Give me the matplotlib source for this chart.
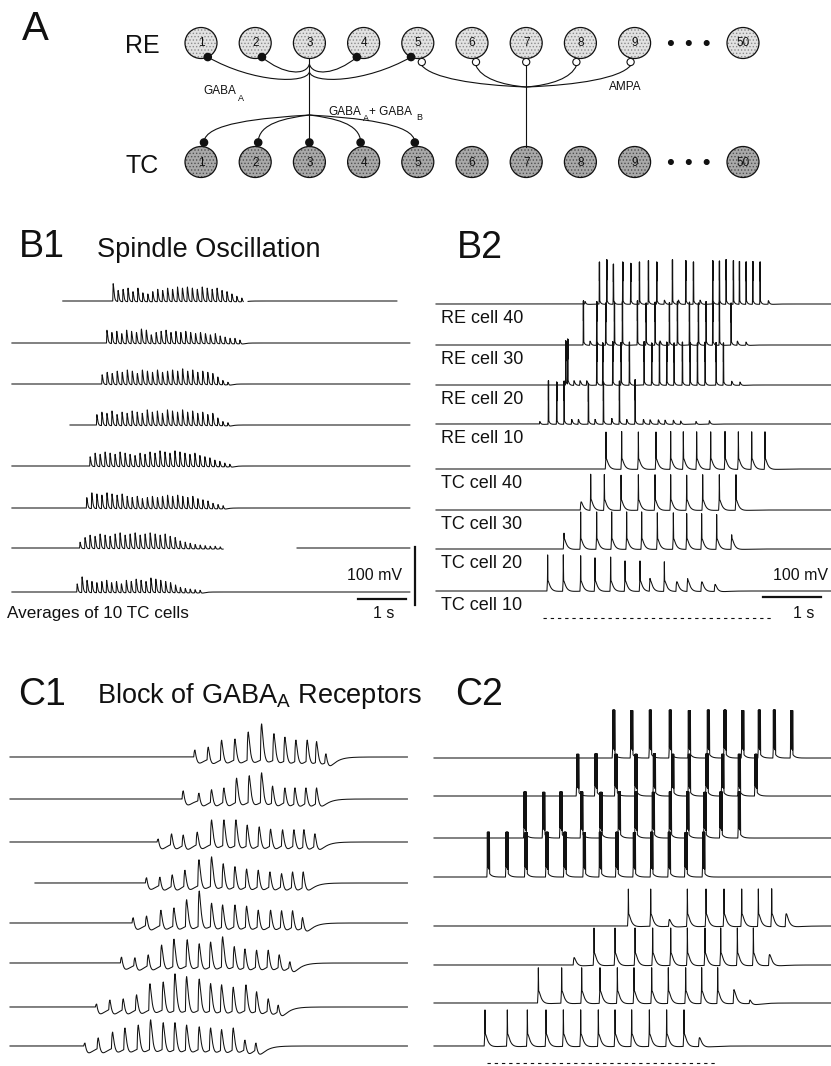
import numpy as np
import matplotlib
matplotlib.use("Agg")
import matplotlib.pyplot as plt
from matplotlib.patches import Ellipse, Circle, PathPatch
from matplotlib.path import Path

plt.rcParams['font.family'] = ['Liberation Sans', 'DejaVu Sans']
plt.rcParams['hatch.linewidth'] = 0.6

# ---------------------------------------------------------------- data
CELL_LABELS = ['1', '2', '3', '4', '5', '6', '7', '8', '9', '50']
GABAA_RE_TARGETS = [1, 2, 4, 5]          # RE3 -> RE cells
GABA_TC_TARGETS = [1, 2, 3, 4, 5]        # RE3 -> TC cells
AMPA_RE_TARGETS = [5, 6, 7, 8, 9]        # TC7 -> RE cells

# B1: averaged spindle traces (onset/offset in s, peak amplitudes in mV)
B1_ONSET = [2.15, 2.02, 1.92, 1.81, 1.67, 1.60, 1.46, 1.40]
B1_OFFSET = [4.83, 4.79, 4.54, 4.54, 4.58, 4.44, 4.38, 3.96]
B1_AMPS = [
    [30, 18, 20, 22, 16, 22, 14, 12, 16, 20, 18, 22, 20, 24, 22, 24, 22, 20, 24, 22, 20, 22, 18, 16, 12, 8, 5],
    [22, 18, 20, 16, 22, 20, 18, 24, 22, 14, 18, 20, 22, 18, 20, 18, 20, 18, 16, 18, 16, 14, 16, 12, 10, 8, 8, 5],
    [16, 20, 18, 22, 20, 24, 22, 18, 24, 22, 20, 24, 20, 22, 24, 22, 26, 22, 24, 20, 22, 20, 18, 12, 6, 3],
    [18, 22, 20, 24, 18, 22, 20, 24, 22, 20, 26, 22, 24, 20, 26, 24, 22, 26, 22, 24, 20, 22, 18, 20, 12, 6, 4],
    [16, 22, 20, 24, 22, 20, 24, 22, 20, 18, 22, 20, 24, 22, 26, 24, 22, 26, 24, 22, 20, 22, 18, 16, 14, 10, 8, 5, 3],
    [18, 26, 24, 22, 26, 24, 22, 24, 20, 18, 20, 16, 18, 20, 18, 20, 22, 20, 22, 20, 18, 20, 16, 14, 12, 8, 6, 4],
    [10, 18, 22, 20, 24, 22, 20, 24, 26, 22, 24, 26, 22, 24, 26, 24, 22, 24, 20, 18, 12, 10, 8, 6, 5, 4, 3, 3, 2],
    [14, 26, 20, 18, 16, 18, 20, 16, 18, 14, 20, 18, 22, 20, 18, 24, 22, 20, 18, 16, 12, 8, 6, 5, 4, 3],
]
B1_START = [1.10, 0.04, 0.04, 1.25, 0.04, 0.04, 0.04, 0.04]
B1_END = [8.06, 8.33, 8.33, 8.33, 8.33, 8.33, 8.33, 8.33]
B1_GAPS = [(4.86, 4.96), None, None, None, None, None, (4.44, 5.98), None]

# B2: single cells (event times in s, peak heights in mV)
B2_LABELS = ['RE cell 40', 'RE cell 30', 'RE cell 20', 'RE cell 10',
             'TC cell 40', 'TC cell 30', 'TC cell 20', 'TC cell 10']
B2_KIND = ['re', 're', 're', 're', 'tc', 'tc', 'tc', 'tc']
B2_T = [
    [2.569, 2.816, 2.943, 3.057, 3.218, 3.356, 3.506, 3.661, 3.805, 3.937, 4.075, 4.178,
     4.305, 4.437, 4.552, 4.770, 4.885, 5.000, 5.126, 5.230, 5.345, 5.460, 5.586, 5.730],
    [2.540, 2.655, 2.770, 2.925, 3.075, 3.213, 3.471, 3.621, 3.776, 3.862, 4.023, 4.161,
     4.368, 4.523, 4.655, 4.770, 4.885, 5.086, 5.195, 5.345],
    [2.236, 2.270, 2.379, 2.483, 2.598, 2.770, 2.874, 3.046, 3.190, 3.333, 3.586, 3.718,
     3.851, 3.977, 4.103, 4.247, 4.379, 4.506, 4.638, 4.828, 4.954, 5.098, 5.241],
    [1.790, 1.937, 2.080, 2.207, 2.339, 2.454, 2.626, 2.741, 2.885, 3.029, 3.161, 3.287,
     3.431, 3.575, 3.690, 3.833, 3.948, 4.092, 4.218, 4.483, 4.713],
    [2.931, 3.201, 3.489, 3.793, 4.046, 4.264, 4.494, 4.736, 4.983, 5.213, 5.443, 5.672],
    [2.500, 2.667, 2.902, 3.190, 3.489, 3.776, 4.046, 4.322, 4.598, 4.885, 5.172],
    [2.207, 2.494, 2.770, 3.029, 3.287, 3.546, 3.816, 4.092, 4.322, 4.580, 4.839, 5.098],
    [1.925, 2.195, 2.494, 2.741, 3.011, 3.259, 3.517, 3.690, 3.937, 4.149, 4.339, 4.580, 4.810],
]
B2_A = [
    [5, 95, 100, 90, 95, 92, 95, 98, 95, 8, 100, 8, 98, 95, 8, 98, 97, 100, 98, 96, 95, 96, 95, 7],
    [100, 8, 98, 95, 97, 98, 100, 95, 97, 8, 96, 98, 97, 95, 98, 96, 97, 95, 8, 6],
    [100, 100, 9, 9, 9, 97, 95, 98, 96, 97, 98, 95, 96, 97, 95, 97, 96, 95, 97, 96, 95, 8, 6],
    [5, 98, 95, 97, 10, 10, 92, 10, 95, 12, 97, 10, 100, 10, 9, 9, 8, 8, 6, 5, 7],
    [84, 85, 84, 84, 85, 84, 84, 84, 85, 84, 84, 84],
    [18, 80, 80, 79, 80, 80, 80, 79, 80, 80, 80],
    [36, 84, 84, 84, 84, 84, 82, 82, 80, 80, 78, 32],
    [82, 82, 80, 75, 77, 68, 68, 27, 66, 20, 27, 20, 14],
]

# C1: averaged traces with GABA_A blocked
C1_T = [
    [3.854, 4.132, 4.410, 4.688, 4.965, 5.243, 5.500, 5.729, 5.958, 6.194, 6.389, 6.583],
    [3.611, 3.938, 4.201, 4.458, 4.722, 4.986, 5.243, 5.472, 5.729, 5.938, 6.167, 6.389],
    [3.090, 3.368, 3.611, 3.903, 4.201, 4.458, 4.708, 4.944, 5.194, 5.431, 5.681, 5.917, 6.125, 6.354],
    [2.847, 3.125, 3.382, 3.646, 3.938, 4.201, 4.444, 4.688, 4.931, 5.174, 5.417, 5.660, 5.889, 6.111],
    [2.569, 2.847, 3.146, 3.417, 3.681, 3.944, 4.201, 4.431, 4.688, 4.931, 5.174, 5.431, 5.660, 5.889, 6.097],
    [2.326, 2.604, 2.882, 3.160, 3.417, 3.694, 3.944, 4.181, 4.431, 4.674, 4.896, 5.139, 5.382, 5.611, 5.833],
    [1.806, 2.083, 2.361, 2.639, 2.917, 3.194, 3.438, 3.681, 3.944, 4.181, 4.410, 4.653, 4.917, 5.139, 5.382, 5.590],
    [1.563, 1.840, 2.139, 2.396, 2.674, 2.931, 3.194, 3.438, 3.681, 3.944, 4.181, 4.410, 4.653, 4.896, 5.125],
]
C1_A = [
    [12, 17, 29, 31, 43, 57, 40, 34, 29, 29, 26, 5],
    [14, 10, 16, 19, 36, 40, 45, 22, 19, 19, 19, 19],
    [5, 14, 12, 17, 38, 38, 38, 29, 26, 22, 21, 21, 21, 14],
    [9, 10, 14, 22, 40, 45, 33, 28, 24, 22, 19, 16, 19, 19],
    [9, 12, 22, 26, 40, 55, 34, 31, 31, 29, 22, 22, 21, 21, 9],
    [10, 9, 14, 31, 41, 40, 33, 36, 45, 28, 24, 22, 22, 14, 2],
    [5, 12, 14, 21, 40, 43, 57, 52, 48, 40, 38, 34, 38, 26, 14, 3],
    [5, 14, 24, 31, 36, 45, 40, 40, 36, 33, 31, 28, 31, 10, 5],
]
C1_START = [0.0, 0.0, 0.0, 0.52, 0.0, 0.0, 0.0, 0.0]

# C2: single cells with GABA_A blocked
C2_KIND = ['rec', 'rec', 'rec', 'rec', 'tcc', 'tcc', 'tcc', 'tcc']
C2_T = [
    [3.081, 3.391, 3.713, 4.057, 4.385, 4.713, 5.000, 5.305, 5.592, 5.851, 6.149],
    [2.460, 2.776, 3.121, 3.466, 3.782, 4.098, 4.385, 4.690, 4.960, 5.247, 5.534],
    [1.552, 1.874, 2.172, 2.529, 2.862, 3.178, 3.466, 3.764, 4.057, 4.357, 4.655, 4.931, 5.247],
    [0.920, 1.241, 1.569, 1.931, 2.241, 2.575, 2.851, 3.138, 3.437, 3.736, 4.040, 4.328, 4.632],
    [3.351, 3.736, 4.057, 4.368, 4.690, 5.000, 5.305, 5.592, 5.822, 6.069],
    [2.414, 2.759, 3.121, 3.466, 3.770, 4.081, 4.368, 4.672, 4.943, 5.230, 5.506, 5.782],
    [1.799, 2.201, 2.546, 2.862, 3.161, 3.448, 3.753, 4.040, 4.339, 4.615, 4.891, 5.172, 5.448],
    [0.879, 1.264, 1.609, 1.931, 2.230, 2.529, 2.833, 3.121, 3.408, 3.713, 4.011, 4.310, 4.575],
]
C2_A = [
    [109, 108, 109, 109, 108, 109, 109, 108, 109, 109, 108],
    [95, 96, 95, 95, 96, 95, 95, 96, 95, 95, 95],
    [105, 104, 105, 105, 104, 105, 105, 104, 105, 105, 104, 105, 105],
    [102, 102, 101, 102, 102, 101, 102, 102, 101, 102, 102, 101, 102],
    [84, 84, 14, 84, 84, 84, 84, 84, 84, 27],
    [16, 84, 84, 84, 84, 84, 84, 84, 84, 84, 84, 23],
    [80, 80, 80, 80, 80, 80, 80, 80, 80, 80, 80, 30, 5],
    [82, 82, 82, 82, 82, 82, 82, 82, 82, 82, 82, 82, 18],
]

SCALE_MV = 100     # mV scale bar
SCALE_S = 1.0      # s scale bar
B2_MARK = (1.85, 5.81)   # dashed marker under B2 (s)
C2_MARK = (0.914, 4.897)  # dashed marker under C2 (s)

# ---------------------------------------------------------------- style / layout
W, H = 831, 1066
INK = '#111111'
DT = 0.0005

STYLES = {
    'avg': dict(tr=0.005, td=0.020, H=None, nspk=0, inh=2.0, itr=0.02, itd=0.06),
    'c1':  dict(tr=0.018, td=0.040, H=None, nspk=0, inh=13.0, itr=0.04, itd=0.14),
    're':  dict(tr=0.004, td=0.030, H=9.0, nspk=2, isi=0.004, sig=0.0012, inh=3.0, itr=0.01, itd=0.06),
    'tc':  dict(tr=0.010, td=0.055, H=23.0, nspk=1, isi=0.0, sig=0.0016, inh=5.0, itr=0.03, itd=0.10),
    'rec': dict(tr=0.006, td=0.050, H=16.0, nspk=7, isi=0.006, sig=0.0012, inh=2.0, itr=0.02, itd=0.08),
    'tcc': dict(tr=0.012, td=0.055, H=27.0, nspk=1, isi=0.0, sig=0.0016, inh=6.0, itr=0.03, itd=0.12),
}


def kpeak(tr, td):
    return tr * td / (td - tr) * np.log(td / tr)


def kval(x, tr, td):
    tp = kpeak(tr, td)
    norm = np.exp(-tp / td) - np.exp(-tp / tr)
    x = np.maximum(x, 0.0)
    return (np.exp(-x / td) - np.exp(-x / tr)) / norm


def add_kernel(v, t, t0, amp, tr, td):
    i0 = np.searchsorted(t, t0)
    i1 = np.searchsorted(t, t0 + 10 * td)
    v[i0:i1] += amp * kval(t[i0:i1] - t0, tr, td)


def add_gauss(v, t, t0, amp, s):
    i0 = np.searchsorted(t, t0 - 6 * s)
    i1 = np.searchsorted(t, t0 + 6 * s)
    v[i0:i1] += amp * np.exp(-0.5 * ((t[i0:i1] - t0) / s) ** 2)


def make_trace(t, times, amps, kind):
    st = STYLES[kind]
    tp = kpeak(st['tr'], st['td'])
    inh = np.zeros_like(t)
    for ti in times:
        add_kernel(inh, t, ti, st['inh'], st['itr'], st['itd'])
    v = np.zeros_like(t)
    for ti, a in zip(times, amps):
        if st['nspk'] == 0:
            depth = np.interp(ti, t, inh)
            add_kernel(v, t, ti - tp, a + depth, st['tr'], st['td'])
        else:
            h = min(a, st['H'])
            lead = 0.6 * tp
            depth = np.interp(ti + 0.4 * tp, t, inh)
            add_kernel(v, t, ti - lead, h + depth, st['tr'], st['td'])
            if a > st['H']:
                for k in range(st['nspk']):
                    tk = ti + k * st['isi']
                    hv = (h + depth) * kval(tk - (ti - lead), st['tr'], st['td'])
                    dk = np.interp(tk, t, inh)
                    add_gauss(v, t, tk, a + dk - hv, st['sig'])
    return v - inh


fig = plt.figure(figsize=(W / 100, H / 100), dpi=100)
fig.patch.set_facecolor('white')

ov = fig.add_axes([0, 0, 1, 1])
ov.set_xlim(0, W)
ov.set_ylim(H, 0)
ov.axis('off')


def panel(px, tx0, pps, yb, ppm):
    x0, x1, y0, y1 = px
    ax = fig.add_axes([x0 / W, 1 - y1 / H, (x1 - x0) / W, (y1 - y0) / H])
    ax.set_xlim((x0 - tx0) / pps, (x1 - tx0) / pps)
    ax.set_ylim((yb - y1) / ppm, (yb - y0) / ppm)
    ax.axis('off')
    return ax


# ---------------------------------------------------------------- panel A
X0, DX, RE_Y, TC_Y, RX, RY = 201, 54.2, 43, 162, 16, 15.5
SLOTS = [0, 1, 2, 3, 4, 5, 6, 7, 8, 10]
DOT_SLOTS = [8.67, 9.0, 9.33]


def cx(cell_index):
    return X0 + DX * SLOTS[cell_index]


for row_y, face, hatch_col in [(RE_Y, '#e2e2e2', '#8c8c8c'), (TC_Y, '#a9a9a9', '#505050')]:
    for i, lab in enumerate(CELL_LABELS):
        x = cx(i)
        ov.add_patch(Ellipse((x, row_y), 2 * RX, 2 * RY, facecolor=face, edgecolor=hatch_col,
                             linewidth=0, hatch='.....', zorder=2))
        ov.add_patch(Ellipse((x, row_y), 2 * RX, 2 * RY, fill=False, edgecolor=INK,
                             linewidth=0.9, zorder=3))
        ov.text(x, row_y + 0.5, lab, ha='center', va='center', fontsize=8.5, color=INK, zorder=4)
    for s in DOT_SLOTS:
        ov.add_patch(Circle((X0 + DX * s, row_y), 2.3, color=INK, zorder=3))


def bezier(p0, p1, p2, p3, **kw):
    path = Path([p0, p1, p2, p3], [Path.MOVETO, Path.CURVE4, Path.CURVE4, Path.CURVE4])
    ov.add_patch(PathPatch(path, fill=False, edgecolor=INK, linewidth=0.8, zorder=2, **kw))


src_x = cx(2)
# vertical axon RE3 -> TC3
ov.plot([src_x, src_x], [RE_Y + RY, TC_Y - RY - 4], color=INK, lw=0.8, zorder=2)
# GABA_A to RE cells
ang = np.deg2rad(65)
for c in GABAA_RE_TARGETS:
    x = cx(c - 1)
    side = 1 if c < 3 else -1
    dx, dy = x + side * RX * np.cos(ang), RE_Y + RY * np.sin(ang)
    far = abs(c - 3) > 1
    yb = 83 if far else 75
    jy = 72 if far else 64
    bezier((dx, dy), (dx + 0.45 * (src_x - dx), yb), (src_x - side * 3, yb + 1), (src_x, jy))
    ov.add_patch(Circle((dx, dy), 3.6, color=INK, zorder=4))
# GABA_A + GABA_B to TC cells
JY2 = 115
for c in GABA_TC_TARGETS:
    x = cx(c - 1)
    side = 1 if c < 3 else (-1 if c > 3 else 0)
    tx = x + side * 3
    ty = TC_Y - RY - 4
    if c != 3:
        bezier((src_x, JY2), (src_x + 0.45 * (tx - src_x), JY2 + 3), (tx, JY2 + 8), (tx, ty))
    ov.add_patch(Circle((tx, ty), 3.6, color=INK, zorder=4))
# AMPA from TC7
amp_x = cx(6)
JY3 = 87
ov.plot([amp_x, amp_x], [RE_Y + RY + 7, TC_Y - RY], color=INK, lw=0.8, zorder=2)
for c in AMPA_RE_TARGETS:
    x = cx(c - 1)
    side = 1 if c < 7 else (-1 if c > 7 else 0)
    ox, oy = x + side * 4, RE_Y + RY + 3.5
    if c != 7:
        bezier((ox, oy + 3.5), (ox + 0.1 * (amp_x - ox), 78), (ox + 0.5 * (amp_x - ox), 85), (amp_x, JY3))
    ov.add_patch(Circle((ox, oy), 3.6, facecolor='white', edgecolor=INK, linewidth=0.8, zorder=4))

ov.text(22, 40, 'A', fontsize=29, color=INK, va='baseline')
ov.text(125, 53, 'RE', fontsize=18, color=INK, va='baseline')
ov.text(125, 173, 'TC', fontsize=18, color=INK, va='baseline')
ov.text(203, 94, 'GABA', fontsize=8.5, color=INK, va='baseline')
ov.text(238, 101, 'A', fontsize=6.5, color=INK, va='baseline')
ov.text(328, 115, 'GABA', fontsize=8.5, color=INK, va='baseline')
ov.text(363, 121, 'A', fontsize=6.5, color=INK, va='baseline')
ov.text(369, 115, '+ GABA', fontsize=8.5, color=INK, va='baseline')
ov.text(416, 120, 'B', fontsize=6.5, color=INK, va='baseline')
ov.text(609, 90, 'AMPA', fontsize=8.5, color=INK, va='baseline')

# ---------------------------------------------------------------- B1
B1_BASE = [301, 343, 384, 425, 466, 508, 548, 592]
axb1 = panel((0, 425, 245, 630), 10, 48, 592, 0.58)
tb1 = np.arange(0, 8.5, DT)
for i in range(8):
    amps = B1_AMPS[i]
    times = np.linspace(B1_ONSET[i], B1_OFFSET[i], len(amps))
    v = make_trace(tb1, times, amps, 'avg') + (592 - B1_BASE[i]) / 0.58
    m = (tb1 >= B1_START[i]) & (tb1 <= B1_END[i])
    if B1_GAPS[i] is not None:
        m &= ~((tb1 > B1_GAPS[i][0]) & (tb1 < B1_GAPS[i][1]))
    vv = np.where(m, v, np.nan)
    axb1.plot(tb1, vv, color=INK, lw=0.75, clip_on=False)
axb1.plot([(415 - 10) / 48] * 2, [(592 - 605) / 0.58, (592 - 605) / 0.58 + SCALE_MV],
          color=INK, lw=1.6, clip_on=False)
axb1.plot([(358 - 10) / 48, (358 - 10) / 48 + SCALE_S], [(592 - 599) / 0.58] * 2,
          color=INK, lw=1.6, clip_on=False)

ov.text(19, 257, 'B1', fontsize=27, color=INK, va='baseline')
ov.text(97, 257, 'Spindle Oscillation', fontsize=19.5, color=INK, va='baseline')
ov.text(347, 580, '100 mV', fontsize=11.5, color=INK, va='baseline')
ov.text(373, 618, '1 s', fontsize=11.5, color=INK, va='baseline')
ov.text(7, 618, 'Averages of 10 TC cells', fontsize=12.3, color=INK, va='baseline')

# ---------------------------------------------------------------- B2
B2_BASE = [304, 345, 385, 424, 469, 510, 549, 591]
axb2 = panel((425, 831, 245, 630), 436, 58, 591, 0.44)
tb2 = np.arange(0, 6.81, DT)
for i in range(8):
    v = make_trace(tb2, B2_T[i], B2_A[i], B2_KIND[i]) + (591 - B2_BASE[i]) / 0.44
    axb2.plot(tb2, v, color=INK, lw=0.75, clip_on=False)
    ov.text(441, B2_BASE[i] + 19, B2_LABELS[i], fontsize=13, color=INK, va='baseline')
axb2.plot([(763 - 436) / 58, (763 - 436) / 58 + SCALE_S], [(591 - 597) / 0.44] * 2,
          color=INK, lw=1.6, clip_on=False)
axb2.plot(list(B2_MARK), [(591 - 618) / 0.44] * 2, color=INK, lw=0.8,
          linestyle=(0, (3, 3.5)), clip_on=False)
ov.text(457, 258, 'B2', fontsize=27, color=INK, va='baseline')
ov.text(773, 580, '100 mV', fontsize=11.5, color=INK, va='baseline')
ov.text(793, 618, '1 s', fontsize=11.5, color=INK, va='baseline')

# ---------------------------------------------------------------- C1
C1_BASE = [757, 799, 842, 883, 923, 963, 1007, 1046]
axc1 = panel((0, 425, 700, 1066), 10, 48, 1046, 0.58)
tc1 = np.arange(0, 8.28, DT)
for i in range(8):
    v = make_trace(tc1, C1_T[i], C1_A[i], 'c1') + (1046 - C1_BASE[i]) / 0.58
    vv = np.where(tc1 >= C1_START[i], v, np.nan)
    axc1.plot(tc1, vv, color=INK, lw=0.75, clip_on=False)
ov.text(18, 705, 'C1', fontsize=27, color=INK, va='baseline')
ov.text(97, 703, r'Block of GABA$_\mathregular{A}$ Receptors', fontsize=19.5, color=INK,
        va='baseline')

# ---------------------------------------------------------------- C2
C2_BASE = [758, 796, 838, 877, 926, 965, 1003, 1046]
axc2 = panel((425, 831, 700, 1066), 434, 58, 1046, 0.44)
tc2 = np.arange(0, 6.85, DT)
for i in range(8):
    v = make_trace(tc2, C2_T[i], C2_A[i], C2_KIND[i]) + (1046 - C2_BASE[i]) / 0.44
    axc2.plot(tc2, v, color=INK, lw=0.75, clip_on=False)
axc2.plot(list(C2_MARK), [(1046 - 1063) / 0.44] * 2, color=INK, lw=0.8,
          linestyle=(0, (3, 3.5)), clip_on=False)
ov.text(455, 705, 'C2', fontsize=27, color=INK, va='baseline')

fig.savefig('out.png', dpi=100, facecolor='white')
